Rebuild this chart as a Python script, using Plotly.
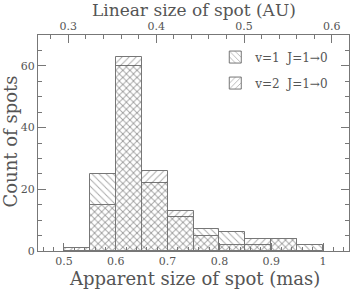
import plotly.graph_objects as go

bin_centers = [0.525, 0.575, 0.625, 0.675, 0.725, 0.775, 0.825, 0.875, 0.925, 0.975]
v1_counts = [0, 25, 60, 22, 11, 7, 6, 2, 4, 2]
v2_counts = [1, 15, 63, 26, 13, 5, 2, 4, 4, 0]
bin_width = 0.05
au_per_mas = 0.59
x_range = [0.45, 1.05]
y_range = [0, 70]
bottom_ticks = [0.5, 0.6, 0.7, 0.8, 0.9, 1.0]
bottom_labels = ["0.5", "0.6", "0.7", "0.8", "0.9", "1"]
top_ticks = [0.3, 0.4, 0.5, 0.6]
top_labels = ["0.3", "0.4", "0.5", "0.6"]
y_ticks = [0, 20, 40, 60]

FONT = "DejaVu Serif"
LINE = "#777777"
HATCH = "#555555"
TXT = "#555555"

fig = go.Figure()
fig.add_trace(go.Bar(
    x=bin_centers, y=v1_counts, width=bin_width, name="v=1  J=1\u21920",
    legendgroup="a",
    marker=dict(color="rgba(0,0,0,0)", line=dict(color=LINE, width=1),
                pattern=dict(shape="\\", fgcolor=HATCH, bgcolor="rgba(0,0,0,0)",
                             size=5, solidity=0.2, fillmode="overlay")),
))
fig.add_trace(go.Bar(
    x=bin_centers, y=v2_counts, width=bin_width, name="v=2  J=1\u21920",
    legendgroup="b",
    marker=dict(color="rgba(0,0,0,0)", line=dict(color=LINE, width=1),
                pattern=dict(shape="/", fgcolor=HATCH, bgcolor="rgba(0,0,0,0)",
                             size=5, solidity=0.2, fillmode="overlay")),
))
fig.add_trace(go.Scatter(x=[], y=[], xaxis="x2", showlegend=False, hoverinfo="skip"))

axis_common = dict(showline=True, linecolor=LINE, linewidth=1, ticks="inside",
                   tickcolor=LINE, ticklen=8, showgrid=False, zeroline=False,
                   automargin=False, ticklabeloverflow="allow",
                   tickfont=dict(family=FONT, size=11, color=TXT))

title_font = dict(family=FONT, size=18, color=TXT)
top_title_font = dict(family=FONT, size=17, color=TXT)

fig.update_layout(
    width=350, height=289,
    margin=dict(l=38, r=1, t=35, b=38),
    paper_bgcolor="white", plot_bgcolor="white",
    barmode="overlay", bargap=0,
    font=dict(family=FONT, color=TXT),
    xaxis=dict(range=x_range, tickvals=bottom_ticks, ticktext=bottom_labels,
               minor=dict(dtick=0.02, ticks="inside", ticklen=4, tickcolor=LINE, tick0=0),
               **axis_common),
    xaxis2=dict(range=[x_range[0] * au_per_mas, x_range[1] * au_per_mas], overlaying="x", side="top",
                tickvals=top_ticks, ticktext=top_labels,
                minor=dict(dtick=0.02, ticks="inside", ticklen=4, tickcolor=LINE, tick0=0),
                **axis_common),
    yaxis=dict(range=y_range, tickvals=y_ticks, mirror="ticks",
               minor=dict(dtick=5, ticks="inside", ticklen=4, tickcolor=LINE),
               **axis_common),
    legend=dict(x=0.57, y=0.965, xanchor="left", yanchor="top", bgcolor="rgba(0,0,0,0)",
                font=dict(family=FONT, size=12, color=TXT), traceorder="grouped",
                tracegroupgap=7),
    showlegend=True,
    annotations=[
        dict(text="Apparent size of spot (mas)", xref="paper", yref="paper", x=0.503, y=-0.125,
             xanchor="center", yanchor="middle", showarrow=False, font=title_font),
        dict(text="Linear size of spot (AU)", xref="paper", yref="paper", x=0.5, y=1.118,
             xanchor="center", yanchor="middle", showarrow=False, font=top_title_font),
        dict(text="Count of spots", xref="paper", yref="paper", x=-0.088, y=0.505,
             xanchor="center", yanchor="middle", showarrow=False, textangle=-90, font=title_font),
    ],
)

fig.write_html("out.html", config={"displayModeBar": False},
               post_script="document.body.style.margin='0';")
